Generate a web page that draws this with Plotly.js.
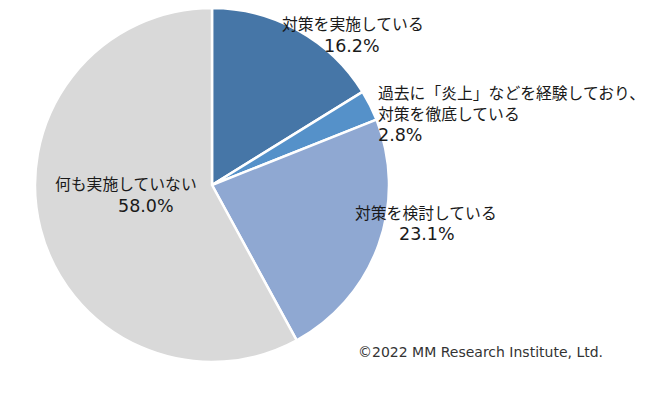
<!DOCTYPE html>
<html><head><meta charset="utf-8">
<script src="https://cdn.plot.ly/plotly-3.0.1.min.js"></script>
<style>html,body{margin:0;padding:0;background:#fff;}#chart{width:665px;height:402px;}</style>
</head><body><div id="chart"></div>
<script>
const categories = ["対策を実施している", "過去に「炎上」などを経験しており、<br>対策を徹底している", "対策を検討している", "何も実施していない"];
const values = [16.2, 2.8, 23.1, 58.0];
const colors = ["#4676a7", "#5591c9", "#8fa8d2", "#d9d9d9"];
const sourceNote = "©2022 MM Research Institute, Ltd.";

const W = 665, H = 402;
const jpFont = {family: "Noto Sans CJK JP, sans-serif", size: 15.8, color: "#1a1a1a"};
const numFont = {family: "DejaVu Sans, sans-serif", size: 17.5, color: "#1a1a1a"};

// label placement (pixels): name line centres, value centre
const labelPos = [
  {x: 353, yn: [24], yv: 46, anchor: "center", vx: 352},
  {x: 376, yn: [92, 113], yv: 135, anchor: "left", vx: 376},
  {x: 426, yn: [212], yv: 234, anchor: "center", vx: 427},
  {x: 126, yn: [183], yv: 206, anchor: "center", vx: 146}
];

const annotations = [];
categories.forEach((c, i) => {
  const p = labelPos[i];
  const xa = p.anchor === "left" ? "left" : "center";
  c.split("<br>").forEach((line, k) => {
    annotations.push({xref: "paper", yref: "paper", x: p.x / W, y: 1 - p.yn[k] / H,
      xanchor: xa, yanchor: "middle", text: line, showarrow: false, font: jpFont});
  });
  annotations.push({xref: "paper", yref: "paper", x: p.vx / W, y: 1 - p.yv / H,
    xanchor: xa, yanchor: "middle", text: values[i].toFixed(1) + "%", showarrow: false, font: numFont});
});
annotations.push({xref: "paper", yref: "paper", x: 356 / W, y: 1 - 352 / H, xanchor: "left", yanchor: "middle",
  text: sourceNote, showarrow: false, font: {family: "DejaVu Sans, sans-serif", size: 14, color: "#333"}});

const trace = {
  type: "pie",
  labels: categories,
  values: values,
  sort: false,
  direction: "clockwise",
  rotation: 0,
  marker: {colors: colors, line: {color: "#ffffff", width: 2.5}},
  textinfo: "none",
  hoverinfo: "label+percent",
  domain: {x: [35 / W, 389 / W], y: [1 - 362 / H, 1 - 8 / H]},
  showlegend: false
};

Plotly.newPlot("chart", [trace], {
  width: W, height: H,
  margin: {l: 0, r: 0, t: 0, b: 0},
  paper_bgcolor: "#fff",
  annotations: annotations,
  showlegend: false
}, {displayModeBar: false, staticPlot: true});
</script></body></html>
